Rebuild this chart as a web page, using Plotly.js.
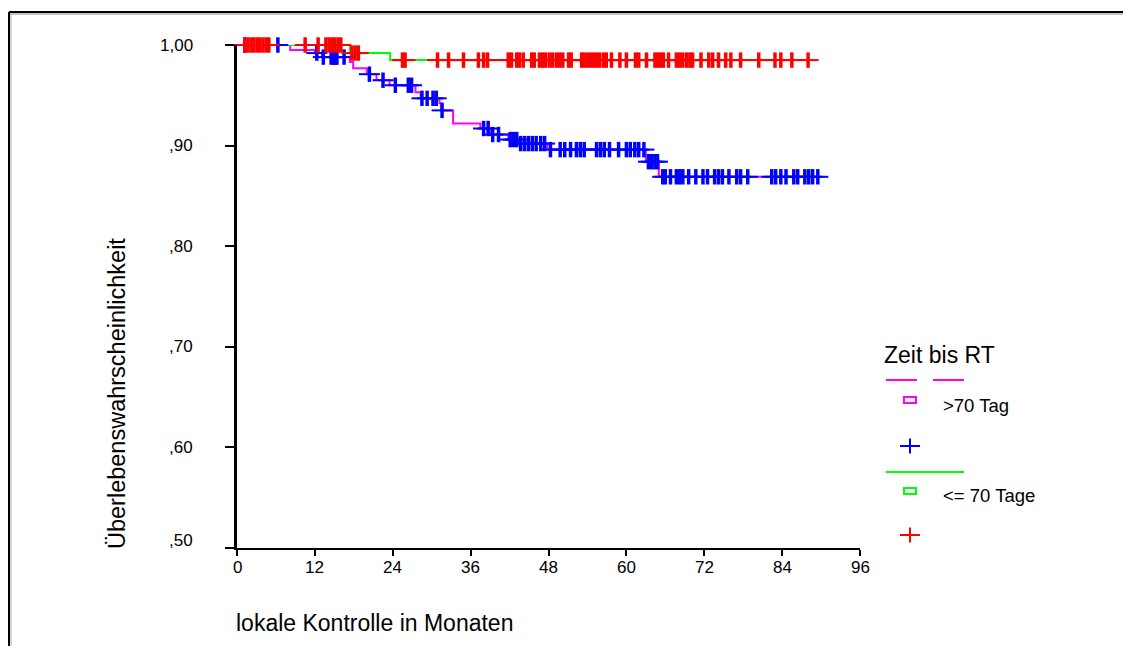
<!DOCTYPE html>
<html><head><meta charset="utf-8">
<script src="https://cdn.plot.ly/plotly-3.0.1.min.js"></script>
<style>html,body{margin:0;padding:0;background:#fff;overflow:hidden;} #chart{width:1123px;height:646px;}</style>
</head><body><div id="chart"></div>
<script>
// ---- Data ----
const xTickVals = [0, 12, 24, 36, 48, 60, 72, 84, 96];
const xTickText = ["0", "12", "24", "36", "48", "60", "72", "84", "96"];
const yTickVals = [0.5, 0.6, 0.7, 0.8, 0.9, 1.0];
const yTickText = [",50", ",60", ",70", ",80", ",90", "1,00"];

const groupNames = [">70 Tag", "<= 70 Tage"];
const legendTitle = "Zeit bis RT";
const xTitle = "lokale Kontrolle in Monaten";
const yTitle = "Überlebenswahrscheinlichkeit";

// >70 Tag : Kaplan-Meier step curve (time of step, survival after step)
const gt70Times = [0, 8.2, 12.0, 13.1, 17.4, 17.9, 20.0, 21.5, 23.5, 27.5, 28.3, 31.2, 31.5, 33.3, 37.5, 39.0, 41.8, 43.5, 47.8, 63.0, 65.0, 89.5];
const gt70Surv  = [1.0, 0.995, 0.992, 0.988, 0.983, 0.977, 0.971, 0.965, 0.960, 0.953, 0.947, 0.942, 0.935, 0.922, 0.917, 0.911, 0.906, 0.902, 0.896, 0.884, 0.869, 0.869];
const gt70Censored = [1.2, 6.3, 12.3, 13.3, 14.5, 14.8, 15.0, 15.2, 15.4, 16.5, 20.4, 22.5, 24.4, 26.4, 26.9, 28.5, 29.3, 30.2, 30.7, 31.6,
  38.0, 38.7, 39.4, 40.3, 42.1, 42.6, 43.1, 43.7, 44.3, 44.9, 45.5, 46.1, 46.8, 47.4, 48.3, 49.8, 50.5, 51.4, 52.3, 52.9, 53.5,
  55.4, 56.0, 56.6, 57.4, 58.8, 60.0, 60.6, 61.3, 61.9, 62.7, 63.4, 63.9, 64.4, 64.8, 65.6, 66.0, 66.8, 67.7, 68.2, 68.7, 69.6,
  70.7, 71.8, 72.5, 73.6, 74.2, 74.8, 75.8, 77.0, 77.6, 78.7, 82.4, 83.0, 83.8, 84.6, 85.8, 86.4, 87.5, 88.1, 88.7, 89.5];

// <= 70 Tage
const le70Times = [0, 17.4, 23.6, 88.0];
const le70Surv  = [1.0, 0.992, 0.985, 0.985];
const le70Censored = [1.2, 1.7, 2.2, 2.6, 3.1, 3.5, 4.0, 4.5, 4.9, 10.5, 12.5, 13.7, 14.2, 14.7, 15.1, 15.6, 16.0, 17.7, 18.2, 18.7,
  25.5, 25.9, 30.9, 32.6, 34.9, 37.2, 38.0, 38.6, 41.8, 42.3, 43.1, 43.5, 44.1, 45.4, 45.8, 46.6, 47.1, 47.5, 48.1, 48.6, 49.2,
  49.7, 50.2, 51.1, 51.5, 53.1, 53.5, 54.0, 54.5, 54.9, 55.4, 55.9, 56.5, 56.9, 57.7, 59.0, 60.0, 61.4, 61.9, 63.1, 64.4, 64.8,
  65.3, 65.7, 66.5, 67.7, 68.2, 68.7, 69.3, 69.8, 70.2, 71.5, 72.7, 73.3, 74.2, 75.3, 76.1, 77.6, 80.4, 82.9, 83.8, 85.5, 88.0];

// ---- Helpers ----
function survAt(times, surv, t) {
  let s = surv[0];
  for (let i = 0; i < times.length; i++) { if (times[i] <= t) s = surv[i]; }
  return s;
}
const FONT = "Liberation Sans, Arial, sans-serif";
const L = 237, R = 860, T = 45, B = 548;   // plot area in pixels
const W = R - L, H = B - T;
const px = x => (x - L) / W;
const py = y => (B - y) / H;

const C_MAG = "#ff00ff", C_BLUE = "#0000ff", C_GREEN = "#00ff00", C_RED = "#ff0000";

function lineTrace(times, surv, color) {
  return { x: times, y: surv, type: "scatter", mode: "lines", line: { shape: "hv", color: color, width: 2 },
           showlegend: false, hoverinfo: "skip", cliponaxis: false };
}
function censorTraces(cens, times, surv, color) {
  const ys = cens.map(t => survAt(times, surv, t));
  return [
    { x: cens, y: ys, type: "scatter", mode: "markers", showlegend: false, hoverinfo: "skip", cliponaxis: false,
      marker: { symbol: "line-ew", size: 15, color: color, line: { color: color, width: 2 } } },
    { x: cens, y: ys, type: "scatter", mode: "markers", showlegend: false, hoverinfo: "skip", cliponaxis: false,
      marker: { symbol: "line-ns", size: 11, color: color, line: { color: color, width: 3.5 } } }
  ];
}

const data = [
  lineTrace(gt70Times, gt70Surv, C_MAG),
  lineTrace(le70Times, le70Surv, C_GREEN),
  ...censorTraces(gt70Censored, gt70Times, gt70Surv, C_BLUE),
  ...censorTraces(le70Censored, le70Times, le70Surv, C_RED)
];

// ---- Decorations ----
const annotations = [];
yTickVals.forEach((v, i) => {
  annotations.push({ xref: "paper", yref: "y", x: px(195), y: v, xanchor: "right", yanchor: "middle",
    yshift: (i === 0 ? 8 : 0), text: yTickText[i], showarrow: false, font: { family: FONT, size: 17, color: "#000" } });
});
xTickVals.forEach((v, i) => {
  annotations.push({ xref: "x", yref: "paper", x: v, y: py(567), xanchor: "center", yanchor: "middle",
    text: xTickText[i], showarrow: false, font: { family: FONT, size: 17, color: "#000" } });
});
annotations.push({ xref: "paper", yref: "paper", x: px(234), y: py(623), xanchor: "left", yanchor: "middle",
  text: xTitle, showarrow: false, font: { family: FONT, size: 23, color: "#000" } });
annotations.push({ xref: "paper", yref: "paper", x: px(117), y: py(394), xanchor: "center", yanchor: "middle",
  textangle: -90, text: yTitle, showarrow: false, font: { family: FONT, size: 23.5, color: "#000" } });
annotations.push({ xref: "paper", yref: "paper", x: px(882), y: py(355), xanchor: "left", yanchor: "middle",
  text: legendTitle, showarrow: false, font: { family: FONT, size: 23, color: "#000" } });
annotations.push({ xref: "paper", yref: "paper", x: px(941), y: py(405), xanchor: "left", yanchor: "middle",
  text: groupNames[0], showarrow: false, font: { family: FONT, size: 18.5, color: "#000" } });
annotations.push({ xref: "paper", yref: "paper", x: px(941), y: py(495), xanchor: "left", yanchor: "middle",
  text: groupNames[1], showarrow: false, font: { family: FONT, size: 18.5, color: "#000" } });

function pline(x0, y0, x1, y1, color, width) {
  return { type: "line", xref: "paper", yref: "paper", x0: px(x0), y0: py(y0), x1: px(x1), y1: py(y1),
           line: { color: color, width: width } };
}
function prect(x0, y0, x1, y1, color, width) {
  return { type: "rect", xref: "paper", yref: "paper", x0: px(x0), y0: py(y0), x1: px(x1), y1: py(y1),
           line: { color: color, width: width }, fillcolor: "rgba(0,0,0,0)" };
}
const shapes = [
  // outer frame (runs off the right and bottom edges)
  pline(9, 12, 1123, 12, "#000", 2),
  pline(10, 14, 1123, 14, "#888", 1),
  pline(9, 12, 9, 646, "#000", 2),
  pline(11, 14, 11, 646, "#aaa", 1),
  // legend
  pline(886, 380, 917, 380, C_MAG, 2),
  pline(933, 380, 964, 380, C_MAG, 2),
  prect(904, 397, 916, 403, C_MAG, 2),
  pline(900, 446, 920, 446, C_BLUE, 2),
  pline(910, 438.5, 910, 453.5, C_BLUE, 2),
  pline(886, 472, 964, 472, C_GREEN, 2),
  prect(904, 488, 916, 494, C_GREEN, 2),
  pline(900, 535, 920, 535, C_RED, 2),
  pline(910, 527.5, 910, 542.5, C_RED, 2)
];

const layout = {
  width: 1123, height: 646,
  margin: { l: L, r: 1123 - R, t: T, b: 646 - B, pad: 0 },
  paper_bgcolor: "#fff", plot_bgcolor: "#fff",
  showlegend: false,
  font: { family: FONT, size: 17, color: "#000" },
  xaxis: {
    range: [0, 96], tickvals: xTickVals, showticklabels: false,
    showgrid: false, zeroline: false, showline: true, linecolor: "#000", linewidth: 2,
    ticks: "outside", ticklen: 6, tickwidth: 2, tickcolor: "#000", fixedrange: true
  },
  yaxis: {
    range: [0.5, 1.0], tickvals: yTickVals, showticklabels: false,
    showgrid: false, zeroline: false, showline: true, linecolor: "#000", linewidth: 3,
    ticks: "outside", ticklen: 9, tickwidth: 2, tickcolor: "#000", fixedrange: true
  },
  annotations: annotations,
  shapes: shapes
};

Plotly.newPlot("chart", data, layout, { staticPlot: true, displayModeBar: false });
</script></body></html>
